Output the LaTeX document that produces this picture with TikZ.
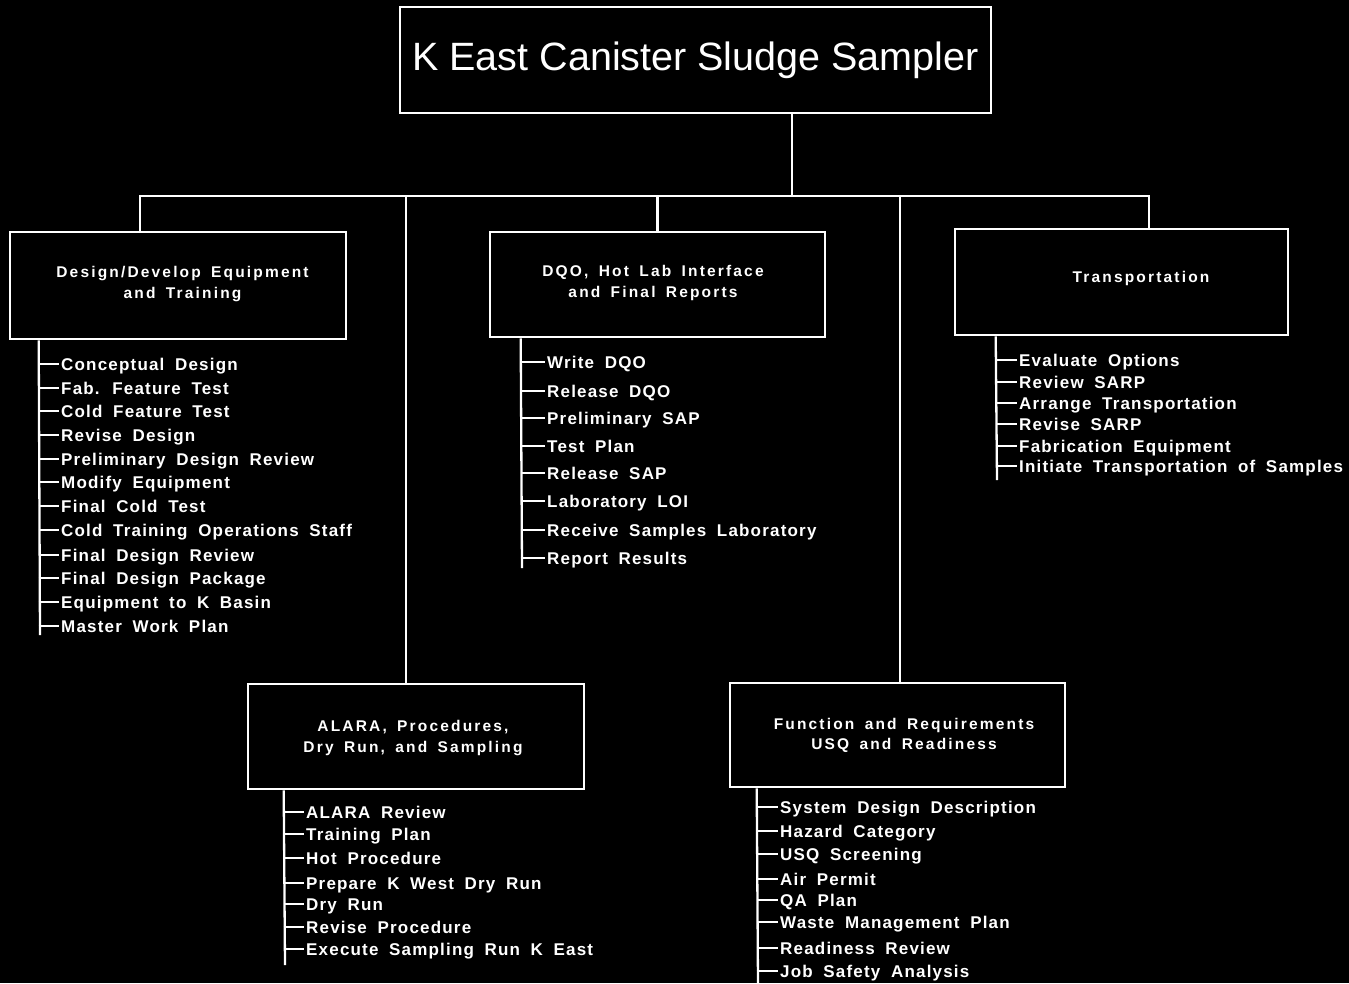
\documentclass[tikz,border=0pt]{standalone}
\usepackage{fontspec}
\setmainfont{Liberation Sans}
\newfontfamily\itemfont[LetterSpace=7,WordSpace=1.8]{Liberation Sans}
\newfontfamily\headfont[LetterSpace=14,WordSpace=1.6]{Liberation Sans}
\begin{document}
\begin{tikzpicture}[x=1pt,y=-1pt,
  box/.style={draw=white,line width=2.6pt,inner sep=0pt,fill=black},
  conn/.style={draw=white,line width=2.3pt},
  tick/.style={draw=white,line width=2pt},
  head/.style={text=white,align=center,inner sep=0pt,font=\headfont\bfseries\fontsize{15.5}{20.5}\selectfont},
  item/.style={text=white,anchor=west,inner xsep=2pt,inner ysep=0pt,text height=12.2pt,text depth=0pt,font=\itemfont\bfseries\fontsize{17}{20}\selectfont}]
\fill[black] (0,0) rectangle (1349,983);
\useasboundingbox (0,0) rectangle (1349,983);
% boxes
\node[box,minimum width=591pt,minimum height=106pt,text=white,font=\fontsize{39.5}{44}\selectfont] (title) at (695.5,60) {K East Canister Sludge Sampler};
\node[box,minimum width=336pt,minimum height=107pt] (design) at (178,285.5) {};
\node[box,minimum width=335pt,minimum height=105pt] (dqo) at (657.5,284.5) {};
\node[box,minimum width=333pt,minimum height=106pt] (trans) at (1121.5,282) {};
\node[box,minimum width=336pt,minimum height=105pt] (alara) at (416,736.5) {};
\node[box,minimum width=335pt,minimum height=104pt] (func) at (897.5,735) {};
% header labels
\node[head] (designL) at (182.5,284) {Design/Develop Equipment\\and Training};
\node[head] (dqoL) at (653,283) {DQO, Hot Lab Interface\\and Final Reports};
\node[head] (transL) at (1141,278) {Transportation};
\node[head] (alaraL) at (413,738) {ALARA, Procedures,\\Dry Run, and Sampling};
\node[head] (funcL) at (904,735.5) {Function and Requirements\\USQ and Readiness};
% bus
\coordinate (bus) at (0,196);
\draw[conn] ([xshift=96.5pt]title.south) -- ([xshift=96.5pt]title.south |- bus);
\draw[conn] ([xshift=-38pt]design.north) |- ([xshift=27.5pt]trans.north |- bus) -- ([xshift=27.5pt]trans.north);
\draw[conn] (dqo.north) -- (dqo.north |- bus);
\draw[conn] ([xshift=-10pt]alara.north) -- ([xshift=-10pt]alara.north |- bus);
\draw[conn] ([xshift=2.5pt]func.north) -- ([xshift=2.5pt]func.north |- bus);
% design list
\coordinate (dtop) at ([xshift=30pt]design.south west);
\coordinate (dbot) at (40,635);
\draw[conn] (dtop) -- (dbot);
\foreach [count=\i] \yy/\tt in {364/Conceptual Design,388/Fab. Feature Test,411/Cold Feature Test,435/Revise Design,459/Preliminary Design Review,482/Modify Equipment,506/Final Cold Test,530/Cold Training Operations Staff,555/Final Design Review,578/Final Design Package,602/Equipment to K Basin,626/Master Work Plan}{
  \node[item] (d\i) at (59,\yy) {\tt};
  \draw[tick] (dtop |- d\i.west) -- (d\i.west);
}
% dqo list
\coordinate (qtop) at ([xshift=32pt]dqo.south west);
\coordinate (qbot) at (522,568);
\draw[conn] (qtop) -- (qbot);
\foreach [count=\i] \yy/\tt in {362/Write DQO,391/Release DQO,418/Preliminary SAP,446/Test Plan,473/Release SAP,501/Laboratory LOI,530/Receive Samples Laboratory,558/Report Results}{
  \node[item] (q\i) at (545,\yy) {\tt};
  \draw[tick] (qtop |- q\i.west) -- (q\i.west);
}
% transportation list
\coordinate (ttop) at ([xshift=42pt]trans.south west);
\coordinate (tbot) at (997,480);
\draw[conn] (ttop) -- (tbot);
\foreach [count=\i] \yy/\tt in {360/Evaluate Options,382/Review SARP,403/Arrange Transportation,424/Revise SARP,446/Fabrication Equipment,466/Initiate Transportation of Samples}{
  \node[item] (t\i) at (1017,\yy) {\tt};
  \draw[tick] (ttop |- t\i.west) -- (t\i.west);
}
% alara list
\coordinate (atop) at ([xshift=37pt]alara.south west);
\coordinate (abot) at (285,965);
\draw[conn] (atop) -- (abot);
\foreach [count=\i] \yy/\tt in {812/ALARA Review,834/Training Plan,858/Hot Procedure,883/Prepare K West Dry Run,904/Dry Run,927/Revise Procedure,949/Execute Sampling Run K East}{
  \node[item] (a\i) at (304,\yy) {\tt};
  \draw[tick] (atop |- a\i.west) -- (a\i.west);
}
% function list
\coordinate (ftop) at ([xshift=28pt]func.south west);
\coordinate (fbot) at (758,983);
\draw[conn] (ftop) -- (fbot);
\foreach [count=\i] \yy/\tt in {807/System Design Description,831/Hazard Category,854/USQ Screening,879/Air Permit,900/QA Plan,922/Waste Management Plan,948/Readiness Review,971/Job Safety Analysis}{
  \node[item] (f\i) at (778,\yy) {\tt};
  \draw[tick] (ftop |- f\i.west) -- (f\i.west);
}
\end{tikzpicture}
\end{document}
